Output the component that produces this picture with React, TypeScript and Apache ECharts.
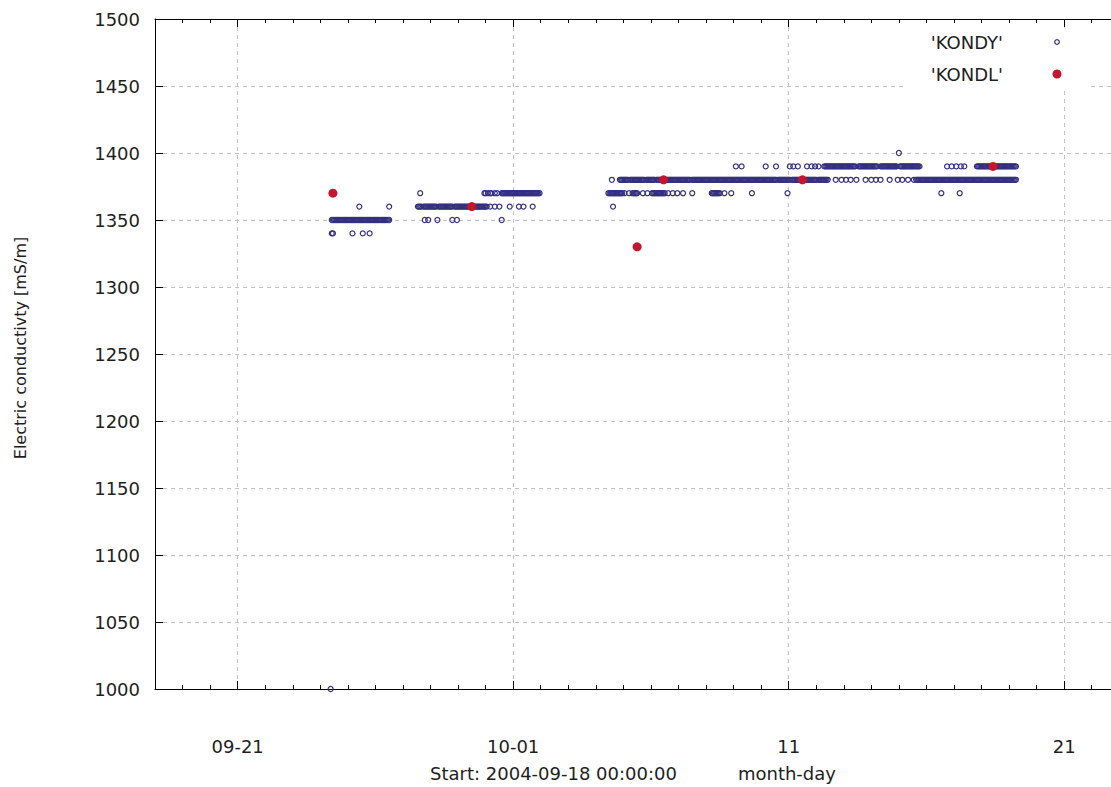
import React, { useEffect, useRef } from "react";
import * as echarts from "echarts";

// x axis values are days since 2004-09-11 00:00; the data start (2004-09-18 00:00) is day 7
const START_DAY = 7;
const END_DAY = 41.7;
const xTickValues = [10, 20, 30, 40];
const xTickLabels = ["09-21", "10-01", "11", "21"];
const yTicks = [1000, 1050, 1100, 1150, 1200, 1250, 1300, 1350, 1400, 1450, 1500];

// KONDY readings: hours since start, grouped by measured value (mS/m)
const kondy1000Hours = [153];
const kondy1340Hours = [154, 155, 172, 181, 187];
const kondy1350Hours = [
  154, 155, 156, 157, 158, 159, 160, 161, 162, 163, 164, 165, 166, 167, 168, 169, 170, 171,
  172, 173, 174, 175, 176, 177, 178, 179, 180, 181, 182, 183, 184, 185, 186, 187, 188, 189,
  190, 191, 192, 193, 194, 195, 196, 197, 198, 199, 200, 201, 202, 203, 204,
  235, 238, 246, 259, 263, 302,
];
const kondy1360Hours = [
  178, 204,
  229, 230, 231, 232, 234, 235, 236, 237, 238, 239, 240, 241, 242, 243, 244, 245, 247, 248,
  249, 250, 251, 252, 253, 254, 255, 256, 257, 258, 259, 261, 262, 263, 264, 265, 266, 267,
  268, 269, 270, 271, 272, 273, 274, 275, 276, 277, 278, 279, 280, 281, 282, 283, 284, 285,
  286, 287, 288, 289,
  292, 296, 300, 309, 317, 321, 329, 399,
];
const kondy1370Hours = [
  231, 287, 288, 290, 292, 293, 296, 298,
  302, 303, 304, 305, 306, 307, 308, 309, 310, 311, 312, 313, 314, 315, 316, 317, 318, 319,
  320, 321, 322, 323, 324, 325, 326, 327, 328, 329, 330, 331, 332, 333, 334, 335,
  395, 396, 397, 398, 399, 400, 401, 402, 403, 404, 405, 406, 407, 409, 413,
  416, 417, 418, 419, 420, 425, 429,
  433, 434, 435, 436, 437, 438, 439, 440, 441, 442, 443, 444,
  447, 451, 455, 460, 468,
  485, 486, 487, 488, 489, 490, 491, 492,
  496, 502, 520, 551, 685, 701,
];
const kondy1380Hours = [
  398,
  405, 406, 407, 408, 409, 410, 411, 412, 414, 415, 416, 417, 418, 419, 420, 421, 422, 423,
  424, 425, 426, 428, 429, 430, 431, 432, 433, 434, 435, 437, 438, 439, 440, 441, 442, 443,
  444, 445, 446, 447, 448, 449, 450, 451, 452, 453, 454, 455, 456, 457, 458, 459, 460, 461,
  462, 463, 464, 465, 466, 468, 469, 470, 471, 472, 473, 474, 475, 476, 477, 478, 479, 480,
  481, 482, 483, 484, 485, 486, 487, 488, 489, 490, 491, 492, 493, 494, 495, 496, 497, 498,
  499, 500, 501, 502, 503, 504, 505, 506, 507, 508, 509, 510, 511, 512, 513, 514, 515, 516,
  517, 518, 519, 520, 521, 522, 523, 524, 525, 526, 527, 528, 529, 530, 531, 532, 533, 534,
  535, 536, 537, 538, 539, 540, 541, 543, 544, 545, 546, 547, 548, 549, 550, 551, 552, 553,
  555, 556, 557, 558, 559, 560, 561, 562, 563, 564, 565, 566, 567, 568, 569, 570, 571, 572,
  573, 574, 575, 576, 578, 579, 580, 581, 582, 583, 584, 585, 586,
  593, 598, 602, 606, 611, 619, 624, 628, 632, 640, 647, 651, 656, 661,
  663, 664, 665, 666, 667, 668, 669, 670, 671, 672, 673, 674, 675, 676, 677, 678, 679, 680,
  681, 682, 683, 684, 685, 686, 687, 688, 689, 690, 691, 692, 693, 694, 695, 696, 697, 698,
  699, 700, 701, 702, 703, 704, 705, 706, 707, 708, 709, 710, 711, 712, 713, 714, 715, 716,
  717, 718, 719, 720, 721, 722, 723, 724, 725, 726, 727, 728, 729, 730, 731, 732, 733, 734,
  735, 736, 737, 738, 739, 740, 741, 742, 743, 744, 745, 746, 747, 748, 749, 750,
];
const kondy1390Hours = [
  506, 511, 532, 541, 553, 556, 560, 568, 572, 575, 578,
  583, 584, 585, 586, 587, 588, 589, 590, 591, 592, 593, 594, 595, 596, 597, 598, 599, 600,
  601, 602, 603, 604, 605, 606, 607, 608, 609, 610, 613, 614, 615, 616, 617, 618, 619, 620,
  621, 622, 623, 624, 625, 626, 627, 628, 629, 632, 633, 634, 635, 636, 637, 638, 639, 640,
  641, 642, 643, 644, 645, 646, 649, 650, 651, 652, 653, 654, 655, 656, 657, 658, 659, 660,
  661, 662, 663, 664, 665, 666,
  690, 694, 698, 702, 705,
  716, 717, 718, 719, 720, 721, 722, 723, 724, 725, 726, 727, 728, 729, 730, 731, 732, 733,
  734, 735, 736, 737, 738, 739, 740, 741, 742, 743, 744, 745, 746, 747, 748, 749, 750,
];
const kondy1400Hours = [648];

// KONDL laboratory readings
const kondlHours = [155, 276, 420, 443, 564, 730];
const kondlValues = [1370, 1360, 1330, 1380, 1380, 1390];

const BLUE = "#35307f";
const RED = "#c5162e";
const TEXT = "#1e1e1e";
const FONT = "DejaVu Sans";

const toX = (h: number) => START_DAY + h / 24;

const kondyGroups: [number, number[]][] = [
  [1000, kondy1000Hours],
  [1340, kondy1340Hours],
  [1350, kondy1350Hours],
  [1360, kondy1360Hours],
  [1370, kondy1370Hours],
  [1380, kondy1380Hours],
  [1390, kondy1390Hours],
  [1400, kondy1400Hours],
];

export default function App() {
  const ref = useRef<HTMLDivElement>(null);

  useEffect(() => {
    if (!ref.current) return;
    const chart = echarts.init(ref.current, undefined, { renderer: "svg" });

    const kondyData: number[][] = [];
    kondyGroups.forEach(([v, hours]) => hours.forEach((h) => kondyData.push([toX(h), v])));
    const kondlData = kondlHours.map((h, i) => [toX(h), kondlValues[i]]);

    const gridLine = { show: true, lineStyle: { color: "#c4c4c4", type: [4, 4] as any, width: 1 } };
    const blackLine = { show: true, lineStyle: { color: "#000", width: 1 } };

    const mainX = (position: "bottom" | "top", labels: boolean) => ({
      type: "value",
      position,
      min: START_DAY,
      max: END_DAY,
      splitNumber: 4,
      axisLine: blackLine,
      axisTick: { show: true, inside: true, length: 8, lineStyle: { color: "#000" } },
      axisLabel: labels
        ? {
            show: true,
            margin: 48,
            fontSize: 18,
            color: TEXT,
            fontFamily: FONT,
            showMinLabel: false,
            showMaxLabel: false,
            formatter: (v: number) => {
              const i = xTickValues.indexOf(Math.round(v * 1000) / 1000);
              return i >= 0 ? xTickLabels[i] : "";
            },
          }
        : { show: false },
      splitLine: labels ? gridLine : { show: false },
    });
    const minorX = (position: "bottom" | "top") => ({
      type: "value",
      position,
      min: START_DAY,
      max: END_DAY,
      interval: 1,
      axisLine: { show: false },
      axisTick: { show: true, inside: true, length: 4, lineStyle: { color: "#000" } },
      axisLabel: { show: false },
      splitLine: { show: false },
    });

    chart.setOption({
      animation: false,
      backgroundColor: "#fff",
      textStyle: { fontFamily: FONT },
      grid: { left: 155, top: 19, right: 0, height: 670, containLabel: false },
      xAxis: [
        {
          ...mainX("bottom", true),
          name: "{a|Start: 2004-09-18 00:00:00}{b|month-day}",
          nameLocation: "middle",
          nameGap: 75,
          nameTextStyle: {
            rich: {
              a: { fontSize: 18, color: TEXT, fontFamily: FONT },
              b: { fontSize: 18, color: TEXT, fontFamily: FONT, padding: [0, 0, 0, 61] },
            },
          },
        },
        minorX("bottom"),
        mainX("top", false),
        minorX("top"),
      ],
      yAxis: {
        type: "value",
        min: yTicks[0],
        max: yTicks[yTicks.length - 1],
        interval: yTicks[1] - yTicks[0],
        name: "Electric conductivty [mS/m]",
        nameLocation: "middle",
        nameGap: 127,
        nameTextStyle: { fontSize: 16, color: TEXT, fontFamily: FONT, padding: [0, 0, 0, 12] },
        axisLine: blackLine,
        axisTick: { show: true, inside: true, length: 8, lineStyle: { color: "#000" } },
        axisLabel: {
          margin: 15,
          fontSize: 18,
          color: TEXT,
          fontFamily: FONT,
          formatter: (v: number) => String(v),
        },
        splitLine: gridLine,
      },
      series: [
        {
          name: "KONDY",
          type: "scatter",
          xAxisIndex: 0,
          yAxisIndex: 0,
          symbol: "circle",
          symbolSize: 5,
          itemStyle: { color: "rgba(255,255,255,0)", borderColor: BLUE, borderWidth: 1.2, opacity: 1 },
          data: kondyData,
          z: 3,
        },
        {
          name: "KONDL",
          type: "scatter",
          xAxisIndex: 0,
          yAxisIndex: 0,
          symbol: "circle",
          symbolSize: 9,
          itemStyle: { color: RED, opacity: 1 },
          data: kondlData,
          z: 4,
        },
      ],
      graphic: [
        {
          type: "rect",
          z: 100,
          shape: { x: 903, y: 28, width: 187, height: 63 },
          style: { fill: "#fff" },
        },
        {
          type: "text",
          z: 101,
          x: 1003,
          y: 42,
          style: {
            text: "'KONDY'",
            font: `18px "${FONT}"`,
            fill: TEXT,
            align: "right",
            verticalAlign: "middle",
            textAlign: "right",
            textVerticalAlign: "middle",
          },
        },
        {
          type: "circle",
          z: 101,
          shape: { cx: 1057, cy: 42, r: 2.3 },
          style: { fill: "#fff", stroke: BLUE, lineWidth: 1.2 },
        },
        {
          type: "text",
          z: 101,
          x: 1003,
          y: 74,
          style: {
            text: "'KONDL'",
            font: `18px "${FONT}"`,
            fill: TEXT,
            align: "right",
            verticalAlign: "middle",
            textAlign: "right",
            textVerticalAlign: "middle",
          },
        },
        {
          type: "circle",
          z: 101,
          shape: { cx: 1057, cy: 74, r: 4.5 },
          style: { fill: RED },
        },
      ],
    });

    return () => chart.dispose();
  }, []);

  return (
    <div
      ref={ref}
      style={{ position: "fixed", left: 0, top: 0, width: 1111, height: 787, background: "#fff" }}
    />
  );
}
